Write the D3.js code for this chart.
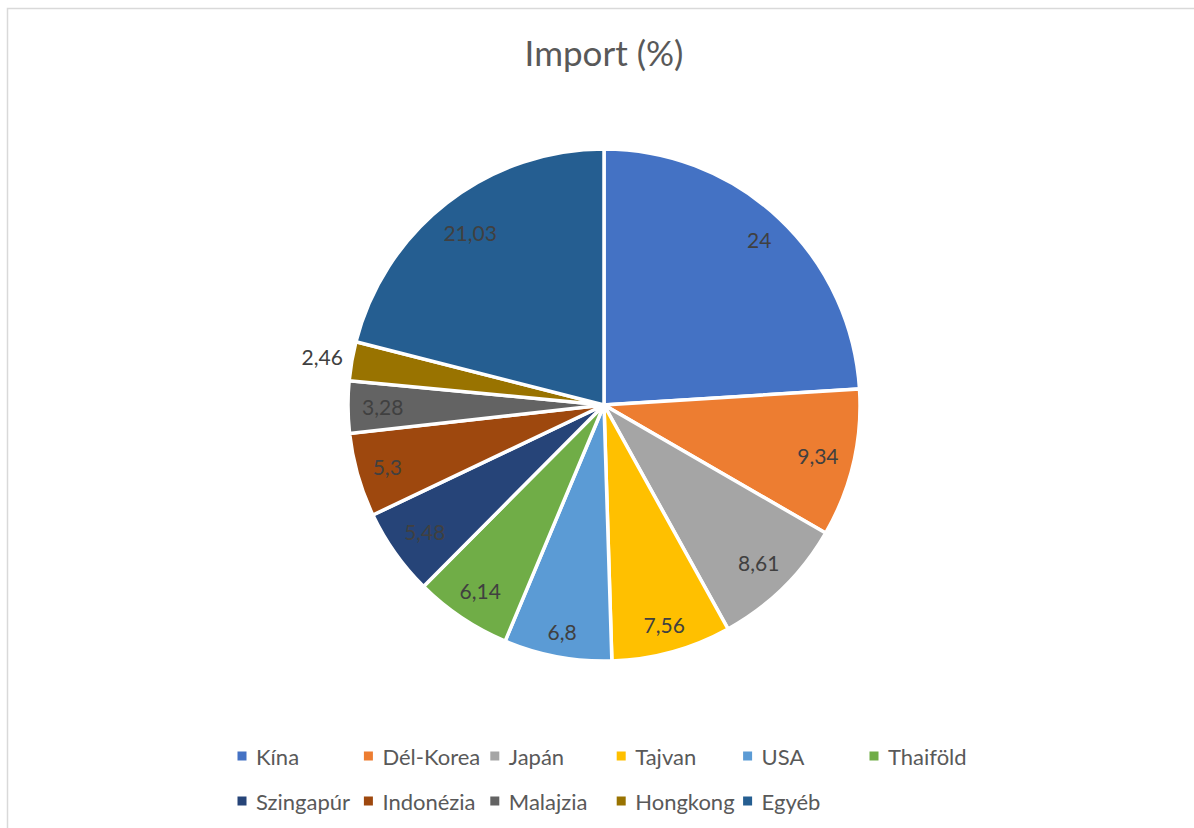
<!DOCTYPE html>
<html>
<head>
<meta charset="utf-8">
<script src="https://cdn.jsdelivr.net/npm/d3@7/dist/d3.min.js"></script>
<style>
  html, body { margin: 0; padding: 0; background: #ffffff; }
  svg { display: block; font-family: Lato, "Open Sans", sans-serif; }
</style>
</head>
<body>
<svg id="chart" width="1194" height="828"></svg>
<script>
// Import shares by partner country (%)
const title = "Import (%)";
const countries = ["Kína", "Dél-Korea", "Japán", "Tajvan", "USA", "Thaiföld",
                   "Szingapúr", "Indonézia", "Malajzia", "Hongkong", "Egyéb"];
const shares = [24, 9.34, 8.61, 7.56, 6.8, 6.14, 5.48, 5.3, 3.28, 2.46, 21.03];
const colors = ["#4472C4", "#ED7D31", "#A5A5A5", "#FFC000", "#5B9BD5", "#70AD47",
                "#264478", "#9E480E", "#636363", "#997300", "#255E91"];

const W = 1194, H = 828;
const cx = 604, cy = 405, R = 256;

const svg = d3.select("#chart");

// chart-area frame (runs off the right and bottom edges)
svg.append("rect")
  .attr("x", 7.5).attr("y", 8.5)
  .attr("width", W + 20).attr("height", H + 20)
  .attr("fill", "none")
  .attr("stroke", "#d9d9d9")
  .attr("stroke-width", 1.5);

// title
svg.append("text")
  .attr("x", cx).attr("y", 66)
  .attr("text-anchor", "middle")
  .attr("fill", "#595959")
  .attr("font-size", 35)
  .text(title);

const color = d3.scaleOrdinal().domain(countries).range(colors);

const pie = d3.pie().sort(null).value(d => d.value);
const arcs = pie(countries.map((c, i) => ({ name: c, value: shares[i] })));
const arc = d3.arc().innerRadius(0).outerRadius(R);

const g = svg.append("g").attr("transform", `translate(${cx},${cy})`);

g.selectAll("path.slice")
  .data(arcs)
  .join("path")
  .attr("class", "slice")
  .attr("d", arc)
  .attr("fill", d => color(d.data.name))
  .attr("stroke", "#ffffff")
  .attr("stroke-width", 3.5)
  .attr("stroke-linejoin", "miter");

// data labels: inside near the rim, or outside for narrow slices
const fmt = v => String(v).replace(".", ",");
const labels = g.selectAll("text.lbl")
  .data(arcs)
  .join("text")
  .attr("class", "lbl")
  .attr("text-anchor", "middle")
  .attr("dominant-baseline", "central")
  .attr("font-size", 21)
  .attr("fill", "#404040")
  .text(d => fmt(d.data.value));

labels.each(function(d) {
  const bb = this.getBBox();
  const a = (d.startAngle + d.endAngle) / 2;
  const s = Math.sin(a), c = Math.cos(a);
  const ext = (bb.width / 2) * Math.abs(s) + (bb.height / 2 - 3) * Math.abs(c);
  const frac = (d.endAngle - d.startAngle) / (2 * Math.PI);
  const dist = frac < 0.03 ? R + 8 + ext : R - 14 - ext;
  d3.select(this).attr("x", dist * s).attr("y", -dist * c);
});

// legend: 6 columns, 2 rows
const colX = d3.scalePoint().domain(d3.range(6)).range([242, 874]);
const rowY = d3.scalePoint().domain([0, 1]).range([756, 801]);

const leg = svg.append("g").selectAll("g")
  .data(countries)
  .join("g")
  .attr("transform", (d, i) => `translate(${colX(i % 6)},${rowY(Math.floor(i / 6))})`);

leg.append("rect")
  .attr("x", -4.5).attr("y", -4.5)
  .attr("width", 9).attr("height", 9)
  .attr("fill", d => color(d));

leg.append("text")
  .attr("x", 14)
  .attr("dominant-baseline", "central")
  .attr("font-size", 22)
  .attr("fill", "#595959")
  .text(d => d);
</script>
</body>
</html>
